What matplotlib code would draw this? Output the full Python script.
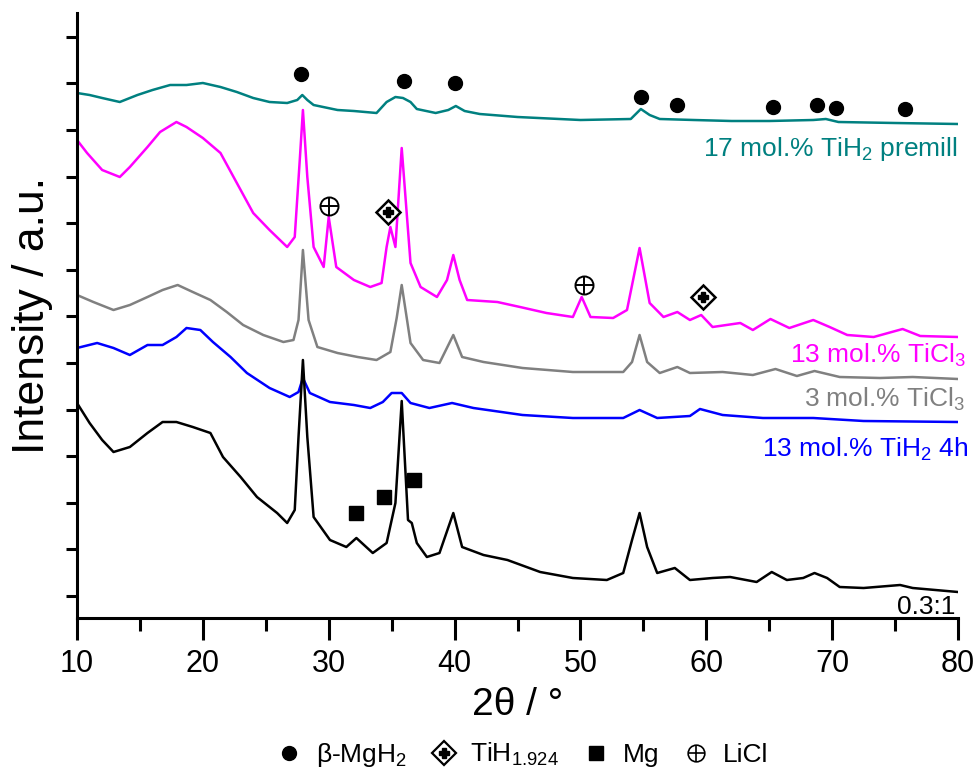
import numpy as np
import matplotlib
matplotlib.use("Agg")
import matplotlib.pyplot as plt
from matplotlib.lines import Line2D
from matplotlib.legend_handler import HandlerTuple

plt.rcParams["font.family"] = ["Liberation Sans", "DejaVu Sans"]
plt.rcParams["mathtext.default"] = "regular"

# XRD patterns: 2theta (deg) and stacked intensity (a.u.)
tt_premill = [10.0, 11.0, 12.0, 13.4, 14.8, 16.0, 17.4, 18.7, 20.0, 21.4, 22.7, 24.0, 25.3, 26.7,
              27.5, 27.9, 28.3, 28.8, 30.7, 32.0, 33.8, 34.6, 35.3, 35.9, 36.5, 37.0, 38.5, 39.5,
              40.1, 40.8, 42.0, 45.0, 50.0, 54.0, 54.8, 55.5, 56.3, 59.0, 62.0, 65.0, 68.5, 69.5,
              70.5, 75.0, 80.0]
i_premill = [525, 523, 520, 516, 523, 528, 533, 533, 535, 531, 526, 520, 516, 515,
             518, 523, 518, 513, 508, 507, 505, 516, 521, 520, 516, 509, 505, 508,
             512, 507, 504, 501, 498, 499, 509, 503, 499, 498, 497, 497, 498, 499,
             496, 495, 494]

tt_ticl13 = [10.0, 10.8, 12.0, 13.4, 14.2, 15.6, 16.6, 17.9, 18.7, 20.0, 21.4, 22.7, 24.0, 25.3,
             26.7, 27.3, 27.7, 27.95, 28.3, 28.8, 29.6, 30.0, 30.6, 32.0, 33.3, 34.2, 34.6, 34.9,
             35.3, 35.8, 36.5, 37.3, 38.6, 39.4, 39.9, 40.4, 41.0, 43.4, 45.2, 47.3, 49.4, 50.1,
             50.8, 52.6, 53.7, 54.7, 55.5, 56.6, 57.7, 58.7, 59.6, 60.5, 62.7, 63.7, 65.1, 66.6,
             68.5, 69.8, 71.2, 73.3, 75.6, 77.0, 80.0]
i_ticl13 = [478, 465, 448, 441, 451, 471, 486, 496, 491, 480, 465, 435, 405, 388,
            371, 381, 458, 508, 441, 371, 351, 401, 351, 338, 331, 335, 371, 391,
            371, 470, 355, 331, 321, 338, 363, 338, 318, 316, 311, 305, 301, 321,
            301, 300, 308, 370, 315, 301, 306, 298, 303, 291, 295, 288, 299, 290,
            298, 291, 283, 281, 289, 282, 281]

tt_ticl3 = [10.0, 11.3, 12.9, 14.2, 15.6, 16.8, 18.0, 19.2, 20.6, 21.9, 23.2, 24.8, 26.4, 27.2,
            27.6, 27.95, 28.4, 29.1, 30.7, 32.3, 33.8, 34.9, 35.4, 35.8, 36.2, 36.5, 37.5, 38.8,
            39.9, 40.6, 42.3, 45.4, 49.4, 53.4, 54.1, 54.7, 55.3, 56.3, 57.7, 58.7, 61.3, 63.7,
            65.5, 67.2, 68.6, 70.6, 73.8, 76.4, 80.0]
i_ticl3 = [323, 316, 308, 313, 321, 328, 333, 326, 318, 306, 293, 283, 276, 278,
           298, 368, 298, 271, 265, 261, 258, 266, 300, 333, 300, 275, 258, 255,
           283, 261, 256, 250, 246, 246, 256, 283, 256, 245, 251, 245, 246, 243,
           249, 242, 247, 241, 240, 241, 239]

tt_tih4h = [10.0, 11.6, 12.9, 14.2, 15.6, 16.8, 17.9, 18.7, 19.8, 20.8, 22.2, 23.5, 25.3, 26.9,
            27.6, 27.95, 28.5, 30.1, 32.0, 33.3, 34.3, 35.0, 35.8, 36.5, 38.0, 39.8, 41.5, 45.4,
            49.4, 53.4, 54.7, 56.1, 58.7, 59.5, 61.3, 64.5, 68.5, 72.5, 80.0]
i_tih4h = [270, 275, 270, 263, 273, 273, 281, 290, 288, 276, 261, 245, 230, 221,
           226, 240, 225, 216, 213, 210, 216, 225, 225, 215, 210, 215, 210, 203,
           200, 200, 208, 200, 202, 209, 203, 200, 200, 197, 196]

tt_ratio = [10.0, 11.0, 12.0, 12.9, 14.2, 15.6, 16.8, 17.9, 19.2, 20.6, 21.6, 23.0, 24.3, 25.9,
            26.7, 27.3, 27.6, 27.95, 28.3, 28.8, 30.1, 31.4, 32.2, 33.5, 34.6, 35.3, 35.8, 36.3,
            36.6, 37.0, 37.8, 38.8, 39.9, 40.6, 42.3, 44.2, 46.8, 49.4, 52.1, 53.4, 54.1, 54.7,
            55.3, 56.1, 57.5, 58.7, 60.5, 61.9, 64.0, 65.2, 66.4, 67.7, 68.6, 69.6, 70.6, 72.5,
            75.4, 76.4, 80.0]
i_ratio = [215, 195, 178, 166, 171, 185, 196, 196, 191, 185, 161, 141, 121, 105,
           95, 108, 181, 258, 181, 101, 78, 71, 80, 65, 75, 115, 217, 98,
           95, 75, 61, 65, 105, 71, 63, 58, 46, 40, 38, 45, 78, 105,
           71, 45, 50, 38, 40, 41, 36, 46, 38, 40, 45, 40, 31, 30,
           33, 30, 26]

# phase markers
tt_mgh2 = [27.8, 36.0, 40.0, 54.8, 57.7, 65.3, 68.8, 70.3, 75.8]
i_mgh2 = [544, 537, 535, 521, 513, 511, 513, 510, 509]
tt_tih = [34.7, 59.7]
i_tih = [406, 321]
tt_mg = [32.2, 34.4, 36.8]
i_mg = [105, 121, 138]
tt_licl = [30.0, 50.3]
i_licl = [412, 333]

fig = plt.figure(figsize=(9.77, 7.77), dpi=100)
ax = fig.add_axes([77 / 977, 1 - 618 / 777, (958 - 77) / 977, (618 - 13) / 777])

lw = 1.8
ax.plot(tt_premill, i_premill, color="#008080", lw=lw)
ax.plot(tt_ticl13, i_ticl13, color="#ff00ff", lw=lw)
ax.plot(tt_ticl3, i_ticl3, color="#808080", lw=lw)
ax.plot(tt_tih4h, i_tih4h, color="#0000ff", lw=lw)
ax.plot(tt_ratio, i_ratio, color="black", lw=lw)

ax.plot(tt_mgh2, i_mgh2, "o", color="black", ms=10, ls="")
ax.plot(tt_mg, i_mg, "s", color="black", ms=10, ls="")
ax.plot(tt_licl, i_licl, "o", mfc="white", mec="black", mew=1.4, ms=13, ls="")
ax.plot(tt_licl, i_licl, "+", color="black", mew=1.4, ms=13, ls="")
ax.plot(tt_tih, i_tih, "D", mfc="white", mec="black", mew=1.8, ms=12, ls="")
ax.plot(tt_tih, i_tih, "P", color="black", ms=7, ls="")

fs = 19
ax.text(80.0, 462, "17 mol.% TiH$_2$ premill", color="#008080", fontsize=fs, ha="right", va="baseline")
ax.text(80.6, 255, "13 mol.% TiCl$_3$", color="#ff00ff", fontsize=fs, ha="right", va="baseline")
ax.text(80.6, 211, "3 mol.% TiCl$_3$", color="#808080", fontsize=fs, ha="right", va="baseline")
ax.text(80.8, 161, "13 mol.% TiH$_2$ 4h", color="#0000ff", fontsize=fs, ha="right", va="baseline")
ax.text(79.8, 4, "0.3:1", color="black", fontsize=fs, ha="right", va="baseline")

ax.set_xlim(10, 80)
ax.set_ylim(0, 605)
ax.set_xticks(np.arange(10, 81, 10))
ax.set_xticks(np.arange(15, 80, 10), minor=True)
ax.set_yticks(22 + 46.6 * np.arange(13))
ax.set_yticklabels([])
for s in ["top", "right"]:
    ax.spines[s].set_visible(False)
for s in ["left", "bottom"]:
    ax.spines[s].set_linewidth(2.2)
ax.tick_params(axis="x", which="major", direction="out", length=16, width=2.2, labelsize=22, pad=6)
ax.tick_params(axis="x", which="minor", direction="out", length=9, width=2.2)
ax.tick_params(axis="y", which="major", direction="out", length=8, width=2.2)

ax.set_xlabel("2θ / °", fontsize=28, labelpad=6)
ax.set_ylabel("Intensity / a.u.", fontsize=32, labelpad=6)

h_mgh2 = Line2D([], [], marker="o", color="black", ls="", ms=10)
h_tih = (Line2D([], [], marker="D", mfc="white", mec="black", mew=1.6, ls="", ms=12),
         Line2D([], [], marker="P", color="black", ls="", ms=7))
h_mg = Line2D([], [], marker="s", color="black", ls="", ms=10)
h_licl = (Line2D([], [], marker="o", mfc="white", mec="black", mew=1.2, ls="", ms=12),
          Line2D([], [], marker="+", color="black", mew=1.2, ls="", ms=12))
fig.legend([h_mgh2, h_tih, h_mg, h_licl],
           ["β-MgH$_2$", "TiH$_{1.924}$", "Mg", "LiCl"],
           handler_map={tuple: HandlerTuple(ndivide=1)},
           loc="center", bbox_to_anchor=(522 / 977, 1 - 755 / 777), ncol=4,
           frameon=False, fontsize=19, handlelength=1.0, handletextpad=0.5,
           columnspacing=0.9)

fig.savefig("out.png", dpi=100)
